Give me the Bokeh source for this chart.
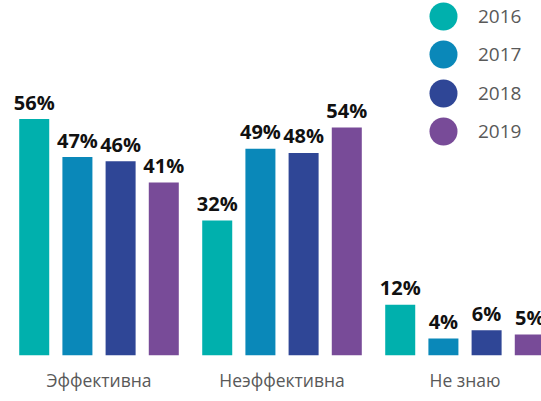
from bokeh.plotting import figure
from bokeh.models import Range1d, FixedTicker, Legend, LegendItem, ColumnDataSource
from bokeh.core.properties import value
from bokeh.embed import file_html
from bokeh.resources import INLINE

categories = ["Эффективна", "Неэффективна", "Не знаю"]
years = ["2016", "2017", "2018", "2019"]
values = {
    "2016": [56, 32, 12],
    "2017": [47, 49, 4],
    "2018": [46, 48, 6],
    "2019": [41, 54, 5],
}
colors = ["#00B0AD", "#0A88B9", "#2F4696", "#784B98"]

step = 0.236
bar_w = 0.164
nan = float("nan")

p = figure(width=541, height=401, output_backend="svg", toolbar_location=None,
           x_range=Range1d(-0.5383, 2.418), y_range=Range1d(0, 84.1),
           min_border_left=0, min_border_right=0, min_border_top=0, min_border_bottom=46)
p.outline_line_color = None
p.grid.visible = False
p.yaxis.visible = False
p.background_fill_color = "white"

xa = p.xaxis[0]
xa.ticker = FixedTicker(ticks=list(range(len(categories))))
xa.major_label_overrides = {i: c for i, c in enumerate(categories)}
xa.axis_line_color = None
xa.major_tick_line_color = None
xa.minor_tick_line_color = None
xa.major_label_standoff = 6
xa.major_label_text_font = "Open Sans"
xa.major_label_text_font_size = "17.5px"
xa.major_label_text_color = "#595959"

frame_h = 401 - 46
for j, (yr, col) in enumerate(zip(years, colors)):
    off = (j - 1.5) * step
    xs = [i + off for i in range(len(categories))]
    vals = values[yr]
    src = ColumnDataSource(dict(x=xs, top=vals, lbl=[f"{v}%" for v in vals]))
    p.vbar(x="x", top="top", width=bar_w, source=src, fill_color=col, line_color=None)
    p.text(x="x", y="top", text="lbl", source=src, text_align="center",
           text_baseline="alphabetic", y_offset=-17,
           text_font=value("Open Sans"), text_font_style="bold",
           text_font_size="20px", text_color="#111111")
    dummy = p.scatter(x=[nan], y=[nan], size=10, marker="circle", fill_color=col, line_color=None)
    cy = 15.5 + 38.6 * j
    leg = Legend(items=[LegendItem(label=yr, renderers=[dummy])],
                 location=(443 - 35, frame_h - cy - 35),
                 glyph_width=70, glyph_height=70, spacing=0, label_standoff=0,
                 padding=0, margin=0,
                 label_text_font="Open Sans", label_text_font_size="19px",
                 label_text_color="#595959", background_fill_alpha=0,
                 border_line_color=None)
    p.add_layout(leg, "center")

open("out.html", "w").write(file_html(p, INLINE))
